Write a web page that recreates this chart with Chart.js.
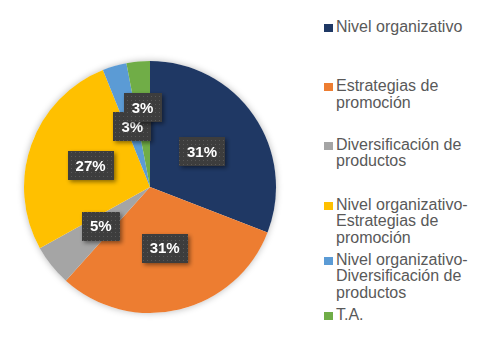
<!DOCTYPE html>
<html>
<head>
<meta charset="utf-8">
<script src="https://cdn.jsdelivr.net/npm/chart.js@4/dist/chart.umd.min.js"></script>
<style>
  body { margin: 0; background: #fff; }
  #wrap { position: relative; width: 489px; height: 349px; overflow: hidden; }
  #pieBox { position: absolute; left: 14px; top: 51px; width: 272px; height: 272px; }
  #legend { position: absolute; left: 324px; top: 0; }
  .item { position: absolute; left: 0; width: 160px; font: 16px "Liberation Sans", Arial, sans-serif;
          line-height: 16.7px; color: #595959; }
  .item i { position: absolute; left: 0; top: 5px; width: 9px; height: 8px; }
  .item span { display: block; margin-left: 12px; width: 140px; }
</style>
</head>
<body>
<div id="wrap">
  <div id="pieBox"><canvas id="pie"></canvas></div>
  <div id="legend"></div>
</div>
<script>
// datos del gráfico
const categorias = [
  'Nivel organizativo',
  'Estrategias de promoción',
  'Diversificación de productos',
  'Nivel organizativo-Estrategias de promoción',
  'Nivel organizativo-Diversificación de productos',
  'T.A.'
];
const valores = [30.9, 30.8, 5.3, 27.0, 3.1, 3.0];
const colores = ['#1f3864', '#ed7d31', '#a5a5a5', '#ffc000', '#5b9bd5', '#70ad47'];

// posición de las etiquetas (fracción del radio) y del legend
const labelRadio = [0.5, 0.5, 0.5, 0.5, 0.5, 0.63];
const legendTops = [19.3, 78, 136.6, 196.6, 251.6, 307];

// motif en pointillé des étiquettes
function makePattern(ctx) {
  const c = document.createElement('canvas');
  c.width = 4; c.height = 4;
  const p = c.getContext('2d');
  p.fillStyle = '#3d3d3d';
  p.fillRect(0, 0, 4, 4);
  p.fillStyle = '#585858';
  p.fillRect(1, 1, 1, 1);
  return ctx.createPattern(c, 'repeat');
}

const sombraPie = {
  id: 'sombraPie',
  beforeDatasetsDraw(chart) {
    const arc = chart.getDatasetMeta(0).data[0];
    if (!arc) return;
    const ctx = chart.ctx;
    ctx.save();
    ctx.shadowColor = 'rgba(0,0,0,0.28)';
    ctx.shadowBlur = 7;
    ctx.fillStyle = '#ffffff';
    ctx.beginPath();
    ctx.arc(arc.x, arc.y, arc.outerRadius, 0, Math.PI * 2);
    ctx.fill();
    ctx.restore();
  }
};

const etiquetas = {
  id: 'etiquetas',
  afterDatasetsDraw(chart) {
    const ctx = chart.ctx;
    const meta = chart.getDatasetMeta(0);
    const total = valores.reduce((a, b) => a + b, 0);
    const pattern = makePattern(ctx);
    ctx.save();
    ctx.font = 'bold 15px "Liberation Sans", Arial, sans-serif';
    ctx.textAlign = 'center';
    ctx.textBaseline = 'middle';
    meta.data.forEach((arc, i) => {
      const p = arc.getProps(['x', 'y', 'startAngle', 'endAngle', 'outerRadius'], true);
      const mid = (p.startAngle + p.endAngle) / 2;
      const r = p.outerRadius * labelRadio[i];
      const x = p.x + Math.cos(mid) * r;
      const y = p.y + Math.sin(mid) * r;
      const txt = Math.round(valores[i] / total * 100) + '%';
      const w = ctx.measureText(txt).width + 16;
      const h = 29;
      ctx.shadowColor = 'rgba(0,0,0,0.45)';
      ctx.shadowBlur = 4;
      ctx.shadowOffsetX = 2;
      ctx.shadowOffsetY = 2;
      ctx.fillStyle = pattern;
      ctx.fillRect(Math.round(x - w / 2), Math.round(y - h / 2), Math.round(w), h);
      ctx.shadowColor = 'transparent';
      ctx.fillStyle = '#ffffff';
      ctx.fillText(txt, x, y + 1);
    });
    ctx.restore();
  }
};

const chart = new Chart(document.getElementById('pie'), {
  type: 'pie',
  data: {
    labels: categorias,
    datasets: [{
      data: valores,
      backgroundColor: colores,
      borderWidth: 0
    }]
  },
  options: {
    responsive: true,
    maintainAspectRatio: false,
    animation: false,
    layout: { padding: 10 },
    plugins: {
      legend: { display: false },
      tooltip: { enabled: false }
    }
  },
  plugins: [sombraPie, etiquetas]
});

// legend HTML
const legend = document.getElementById('legend');
chart.data.labels.forEach((lab, i) => {
  const div = document.createElement('div');
  div.className = 'item';
  div.style.top = legendTops[i] + 'px';
  div.innerHTML = `<i style="background:${chart.data.datasets[0].backgroundColor[i]}"></i><span>${lab}</span>`;
  legend.appendChild(div);
});
</script>
</body>
</html>
